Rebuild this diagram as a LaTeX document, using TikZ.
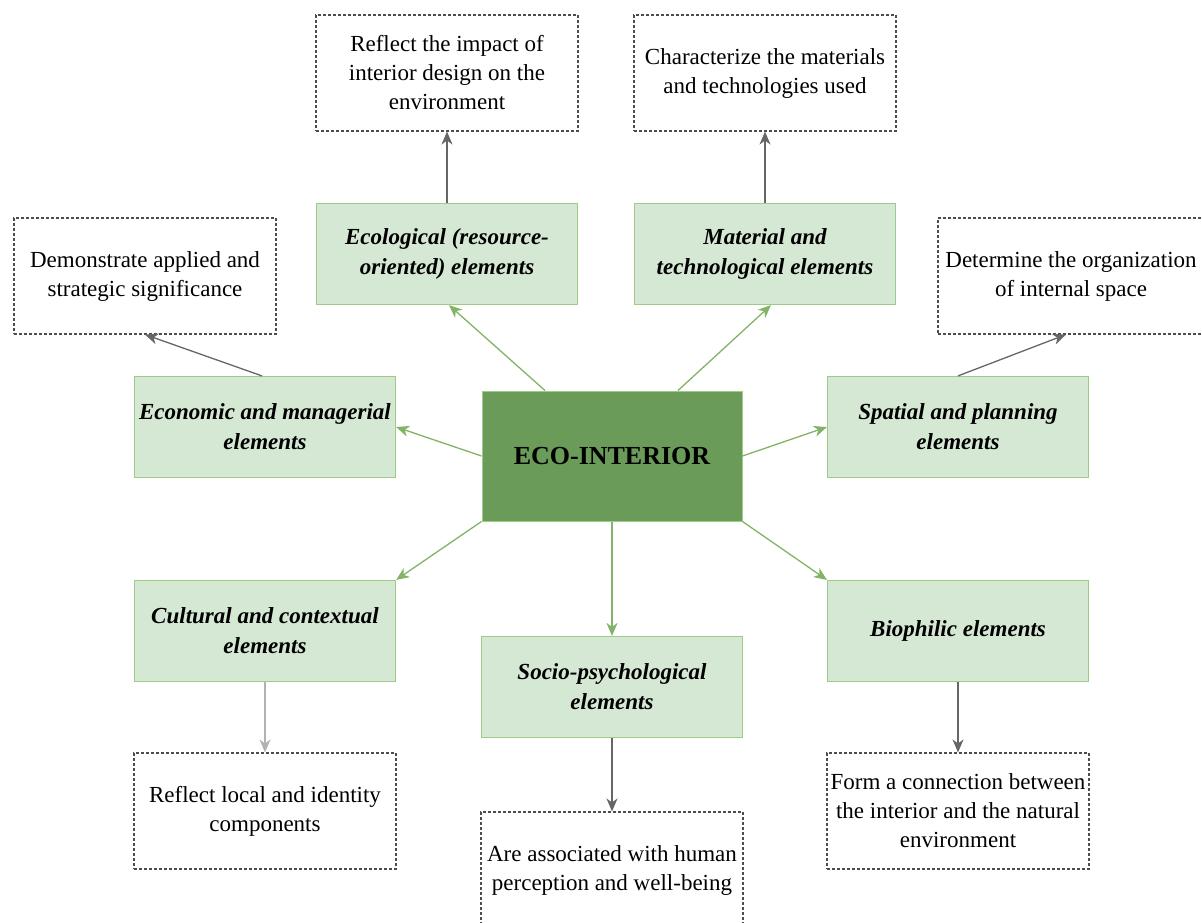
\documentclass[tikz,border=0pt]{standalone}
\usepackage{xcolor}
\usepackage{fontspec}
\setmainfont{Liberation Serif}
\usetikzlibrary{shapes.geometric, arrows.meta, positioning}

\definecolor{ecoDark}{HTML}{6A9B58}
\definecolor{ecoLight}{HTML}{D5E8D4}
\definecolor{ecoLine}{HTML}{9DCB88}
\definecolor{ecoArrow}{HTML}{82B366}

\begin{document}
\begin{tikzpicture}[
    x=1pt, y=-1pt,
    core-node/.style={rectangle, draw=ecoLine, fill=ecoDark, line width=1pt, minimum width=260pt, minimum height=130pt, font=\fontsize{26}{30}\selectfont\bfseries},
    elem-node/.style={rectangle, draw=ecoLine, fill=ecoLight, line width=1.2pt, minimum width=261pt, minimum height=101pt, inner sep=2pt, align=center, font=\fontsize{23}{30}\selectfont\bfseries\itshape},
    note-node/.style={rectangle, draw=black!70, line width=1.1pt, dash pattern=on 2.8pt off 2.2pt, minimum width=262pt, minimum height=116pt, inner sep=2pt, align=center, font=\fontsize{23}{29}\selectfont},
    edge/.style={draw=ecoArrow, line width=1.3pt, -{Stealth[length=13pt, width=11pt, inset=4pt]}},
    note-edge/.style={draw=black!60, line width=1.3pt, -{Stealth[length=13pt, width=11pt, inset=4pt]}}
]

    \useasboundingbox (0,0) rectangle (1202,922);

    \node[core-node] (eco) at (612, 456) {ECO-INTERIOR};

    \node[elem-node] (ecol) at (447, 254) {Ecological (resource-\\oriented) elements};
    \node[elem-node] (mat) at (765, 254) {Material and\\technological elements};
    \node[elem-node] (econ) at (265, 427) {Economic and managerial\\elements};
    \node[elem-node] (spat) at (958, 427) {Spatial and planning\\elements};
    \node[elem-node] (cult) at (265, 631) {Cultural and contextual\\elements};
    \node[elem-node] (socio) at (612, 687) {Socio-psychological\\elements};
    \node[elem-node] (bio) at (958, 631) {Biophilic elements};

    \node[note-node] (n-ecol) at (447, 73) {Reflect the impact of\\interior design on the\\environment};
    \node[note-node] (n-mat) at (765, 73) {Characterize the materials\\and technologies used};
    \node[note-node] (n-econ) at (145, 276) {Demonstrate applied and\\strategic significance};
    \node[note-node, minimum width=266pt] (n-spat) at (1071, 276) {Determine the organization\\of internal space};
    \node[note-node] (n-cult) at (265, 811) {Reflect local and identity\\components};
    \node[note-node] (n-socio) at (612, 870) {Are associated with human\\perception and well-being};
    \node[note-node] (n-bio) at (958, 811) {Form a connection between\\the interior and the natural\\environment};

    \draw[edge] ([xshift=-67pt]eco.north) -- ([xshift=2pt]ecol.south);
    \draw[edge] ([xshift=66pt]eco.north) -- ([xshift=6pt]mat.south);
    \draw[edge] (eco.west) -- (econ.east);
    \draw[edge] (eco.east) -- (spat.west);
    \draw[edge] (eco.south west) -- (cult.north east);
    \draw[edge] (eco.south) -- (socio.north);
    \draw[edge] (eco.south east) -- (bio.north west);

    \draw[note-edge] (ecol.north) -- (n-ecol.south);
    \draw[note-edge] (mat.north) -- (n-mat.south);
    \draw[note-edge] ([xshift=-3pt]econ.north) -- (n-econ.south);
    \draw[note-edge] (spat.north) -- ([xshift=-5pt]n-spat.south);
    \draw[note-edge, draw=black!30] (cult.south) -- (n-cult.north);
    \draw[note-edge] (socio.south) -- (n-socio.north);
    \draw[note-edge] (bio.south) -- (n-bio.north);

\end{tikzpicture}
\end{document}
